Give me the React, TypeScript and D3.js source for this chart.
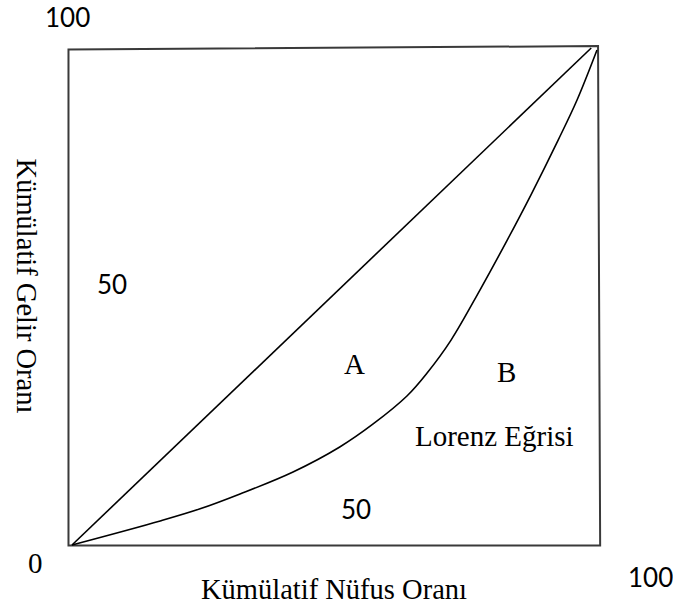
import React from "react";
import * as d3 from "d3";

const W = 673;
const H = 610;

// Cumulative population share (%) and cumulative income share (%) along the Lorenz curve
const lorenzX = [0, 16.8, 24.4, 32.0, 42.1, 51.0, 57.3, 63.8, 67.6, 72.2, 77.7, 82.9, 87.4, 92.6, 96.2, 100];
const lorenzY = [0, 4.85, 7.3, 10.3, 14.75, 19.8, 24.4, 30.1, 34.7, 41.4, 51.5, 61.6, 70.7, 81.8, 89.9, 100];

// Line of perfect equality
const equalityX = [0, 98.9];
const equalityY = [0, 100.4];

// Frame corners (data units, slightly hand-drawn)
const frameX = [-0.67, -0.67, 100.2, 100.6];
const frameY = [-0.1, 100.1, 100.8, -0.1];

const axisTitleX = "Kümülatif Nüfus Oranı";
const axisTitleY = "Kümülatif Gelir Oranı";
const curveLabel = "Lorenz Eğrisi";
const areaLabels = ["A", "B"];
const tickLabels = ["0", "50", "100"];

export default function App() {
  const x = d3.scaleLinear().domain([0, 100]).range([72, 597]);
  const y = d3.scaleLinear().domain([0, 100]).range([545, 50]);

  const line = d3
    .line<number>()
    .x((_, i) => x(lorenzX[i]))
    .y((d) => y(d))
    .curve(d3.curveCatmullRom.alpha(0.5));

  const straight = d3
    .line<number>()
    .x((_, i) => x(equalityX[i]))
    .y((d) => y(d));

  const frame = d3
    .line<number>()
    .x((_, i) => x(frameX[i]))
    .y((d) => y(d));

  const serif = "'Liberation Serif', 'Times New Roman', serif";
  const sans = "Lato, 'Open Sans', sans-serif";

  return (
    <div style={{ position: "absolute", left: 0, top: 0, width: W, height: H, background: "#fff" }}>
      <svg width={W} height={H} style={{ display: "block" }}>
        <rect x={0} y={0} width={W} height={H} fill="#fff" />
        <path
          d={(frame(frameY) || "") + "Z"}
          fill="none"
          stroke="#3a3a3a"
          strokeWidth={2}
        />
        <path d={straight(equalityY) || ""} fill="none" stroke="#000" strokeWidth={1.6} />
        <path d={line(lorenzY) || ""} fill="none" stroke="#000" strokeWidth={1.6} />

        <text x={45} y={27} fontFamily={sans} fontSize={26} fill="#000">{tickLabels[2]}</text>
        <text x={97} y={294} fontFamily={sans} fontSize={26} fill="#000">{tickLabels[1]}</text>
        <text x={341} y={519} fontFamily={sans} fontSize={26} fill="#000">{tickLabels[1]}</text>
        <text x={628} y={587} fontFamily={sans} fontSize={26} fill="#000">{tickLabels[2]}</text>
        <text x={28} y={573} fontFamily={serif} fontSize={29} fill="#000">{tickLabels[0]}</text>

        <text x={344} y={374} fontFamily={serif} fontSize={29} fill="#000">{areaLabels[0]}</text>
        <text x={497} y={382} fontFamily={serif} fontSize={29} fill="#000">{areaLabels[1]}</text>
        <text x={415} y={446} fontFamily={serif} fontSize={29} fill="#000">{curveLabel}</text>

        <text x={334} y={599} textAnchor="middle" fontFamily={serif} fontSize={28.5} fill="#000">
          {axisTitleX}
        </text>
        <text
          transform="translate(17,286) rotate(90)"
          textAnchor="middle"
          fontFamily={serif}
          fontSize={28.5}
          fill="#000"
        >
          {axisTitleY}
        </text>
      </svg>
    </div>
  );
}
